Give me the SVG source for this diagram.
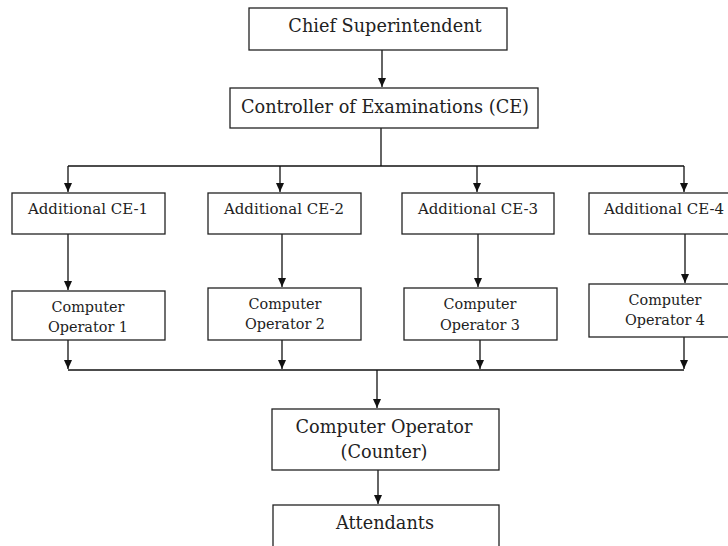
<svg xmlns="http://www.w3.org/2000/svg" width="728" height="546" viewBox="0 0 728 546">
<defs>
<marker id="ah" markerWidth="10" markerHeight="10" refX="9" refY="5" orient="auto" markerUnits="userSpaceOnUse">
<path d="M0,1 L9,5 L0,9 Z" fill="#111"/>
</marker>
<style>
.box{fill:#fff;stroke:#222;stroke-width:1.3}
.t{font-family:"DejaVu Serif","Liberation Serif",serif;fill:#222;text-anchor:middle}
.big{font-size:17.7px}
.sm{font-size:15px}
.op{font-size:14.4px}
.ln{fill:none;stroke:#111;stroke-width:1.3}
</style>
</defs>
<rect width="728" height="546" fill="#fff"/>
<g id="connectors">
<path class="ln" d="M382,50 V87" marker-end="url(#ah)"/>
<path class="ln" d="M381,128 V166"/>
<path class="ln" d="M68,166 H684"/>
<path class="ln" d="M68,166 V192" marker-end="url(#ah)"/>
<path class="ln" d="M280,166 V192" marker-end="url(#ah)"/>
<path class="ln" d="M477,166 V192" marker-end="url(#ah)"/>
<path class="ln" d="M684,166 V192" marker-end="url(#ah)"/>
<path class="ln" d="M68,234 V290" marker-end="url(#ah)"/>
<path class="ln" d="M282,234 V287" marker-end="url(#ah)"/>
<path class="ln" d="M478,234 V287" marker-end="url(#ah)"/>
<path class="ln" d="M685,234 V283" marker-end="url(#ah)"/>
<path class="ln" d="M68,340 V369" marker-end="url(#ah)"/>
<path class="ln" d="M282,340 V369" marker-end="url(#ah)"/>
<path class="ln" d="M480,340 V369" marker-end="url(#ah)"/>
<path class="ln" d="M684,337 V369" marker-end="url(#ah)"/>
<path class="ln" d="M68,370 H684"/>
<path class="ln" d="M377,370 V408" marker-end="url(#ah)"/>
<path class="ln" d="M378,470 V504" marker-end="url(#ah)"/>
</g>
<g id="chief">
<rect class="box" x="249" y="8" width="258" height="42"/>
<text class="t big" x="385" y="32">Chief Superintendent</text>
</g>
<g id="controller">
<rect class="box" x="230" y="88" width="308" height="40"/>
<text class="t big" x="385" y="113">Controller of Examinations (CE)</text>
</g>
<g id="ace1">
<rect class="box" x="12" y="193" width="153" height="41"/>
<text class="t sm" x="88" y="214">Additional CE-1</text>
</g>
<g id="ace2">
<rect class="box" x="208" y="193" width="153" height="41"/>
<text class="t sm" x="284" y="214">Additional CE-2</text>
</g>
<g id="ace3">
<rect class="box" x="402" y="193" width="152" height="41"/>
<text class="t sm" x="478" y="214">Additional CE-3</text>
</g>
<g id="ace4">
<rect class="box" x="589" y="193" width="145" height="41"/>
<text class="t sm" x="664" y="214">Additional CE-4</text>
</g>
<g id="op1">
<rect class="box" x="12" y="291" width="153" height="49"/>
<text class="t op" x="88" y="312">Computer</text>
<text class="t op" x="88" y="332">Operator 1</text>
</g>
<g id="op2">
<rect class="box" x="208" y="288" width="153" height="52"/>
<text class="t op" x="285" y="309">Computer</text>
<text class="t op" x="285" y="329">Operator 2</text>
</g>
<g id="op3">
<rect class="box" x="404" y="288" width="153" height="52"/>
<text class="t op" x="480" y="309">Computer</text>
<text class="t op" x="480" y="330">Operator 3</text>
</g>
<g id="op4">
<rect class="box" x="589" y="284" width="145" height="53"/>
<text class="t op" x="665" y="305">Computer</text>
<text class="t op" x="665" y="325">Operator 4</text>
</g>
<g id="counter">
<rect class="box" x="272" y="409" width="227" height="61"/>
<text class="t big" x="384" y="433">Computer Operator</text>
<text class="t big" x="384" y="458">(Counter)</text>
</g>
<g id="attendants">
<rect class="box" x="273" y="505" width="226" height="45"/>
<text class="t big" x="385" y="529">Attendants</text>
</g>
</svg>
